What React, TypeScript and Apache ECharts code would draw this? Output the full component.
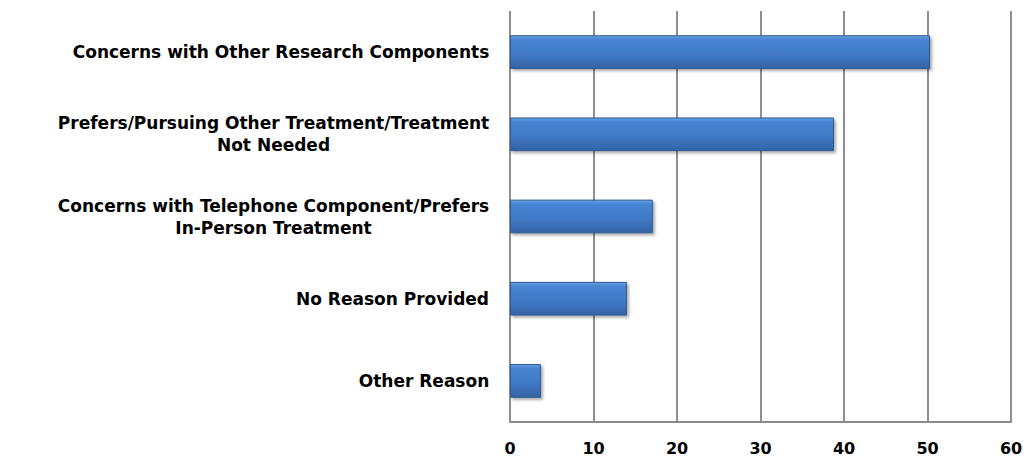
import React, { useEffect, useRef } from "react";
import * as echarts from "echarts";

// Reasons for declining participation, top to bottom
const reasons = [
  "Concerns with Other Research Components",
  "Prefers/Pursuing Other Treatment/Treatment\nNot Needed",
  "Concerns with Telephone Component/Prefers\nIn-Person Treatment",
  "No Reason Provided",
  "Other Reason",
];
const counts = [50.3, 38.8, 17.1, 14, 3.7];
const xTicks = [0, 10, 20, 30, 40, 50, 60];

const LABEL_FONT = "DejaVu Sans";
const LABEL_SIZE = 17;

function widestLine(text: string): number {
  const canvas = document.createElement("canvas");
  const ctx = canvas.getContext("2d");
  if (!ctx) return 0;
  ctx.font = `bold ${LABEL_SIZE}px "${LABEL_FONT}"`;
  return Math.max(...text.split("\n").map((l) => ctx.measureText(l).width));
}

export default function App() {
  const ref = useRef<HTMLDivElement>(null);

  useEffect(() => {
    if (!ref.current) return;
    const chart = echarts.init(ref.current, null, { renderer: "svg" });

    // each label is a block whose lines are centred on its widest line
    const rich: Record<string, any> = {};
    reasons.forEach((r, i) => {
      rich["c" + i] = {
        width: Math.ceil(widestLine(r)) + 1,
        align: "center",
        fontFamily: LABEL_FONT,
        fontSize: LABEL_SIZE,
        fontWeight: "bold",
        color: "#000",
        lineHeight: 22,
      };
    });

    chart.setOption({
      animation: false,
      backgroundColor: "#fff",
      grid: { left: 510, right: 15, top: 11, bottom: 34, containLabel: false },
      xAxis: {
        type: "value",
        min: xTicks[0],
        max: xTicks[xTicks.length - 1],
        interval: xTicks[1] - xTicks[0],
        axisLine: { show: true, lineStyle: { color: "#8a8a8a", width: 2 } },
        axisTick: { show: false },
        splitLine: { show: true, lineStyle: { color: "#8f8f8f", width: 2 } },
        axisLabel: {
          margin: 18,
          fontFamily: LABEL_FONT,
          fontSize: 16,
          fontWeight: "bold",
          color: "#000",
        },
      },
      yAxis: {
        type: "category",
        data: reasons,
        inverse: true,
        axisLine: { show: false },
        axisTick: { show: false },
        splitLine: { show: false },
        axisLabel: {
          margin: 20,
          align: "right",
          formatter: (v: string) => {
            const i = reasons.indexOf(v);
            return v
              .split("\n")
              .map((l) => `{c${i}|${l}}`)
              .join("\n");
          },
          rich,
        },
      },
      series: [
        {
          type: "bar",
          data: counts,
          barWidth: "41%",
          itemStyle: {
            color: new echarts.graphic.LinearGradient(0, 0, 0, 1, [
              { offset: 0, color: "#6aa2e6" },
              { offset: 0.12, color: "#4785d3" },
              { offset: 0.6, color: "#3f78c4" },
              { offset: 1, color: "#3463a6" },
            ]),
            borderColor: "#2f5a92",
            borderWidth: 1,
            shadowColor: "rgba(0,0,0,0.35)",
            shadowBlur: 3,
            shadowOffsetX: 2,
            shadowOffsetY: 2,
          },
        },
      ],
    });

    return () => chart.dispose();
  }, []);

  return (
    <div
      ref={ref}
      style={{ position: "fixed", left: 0, top: 0, width: 1026, height: 456 }}
    />
  );
}
